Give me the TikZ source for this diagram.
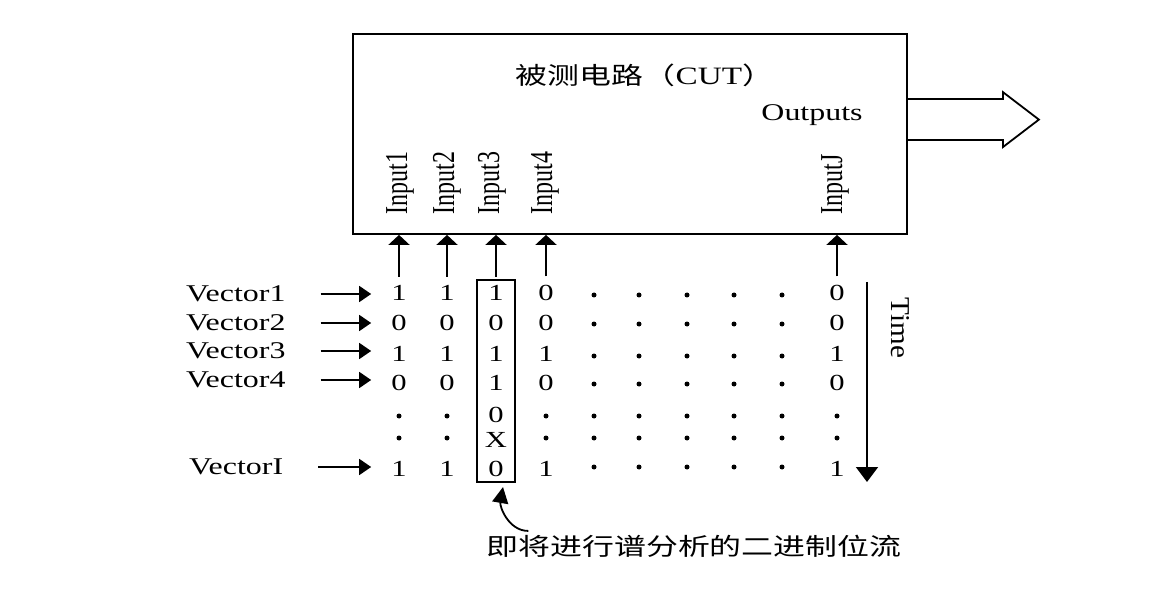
\documentclass[tikz,border=0pt]{standalone}
\usepackage{fontspec}
\setmainfont{Liberation Serif}
\newfontfamily\cjk{Noto Sans CJK SC}
\usepackage{tikz}
\usetikzlibrary{arrows.meta,fit}

\begin{document}
\begin{tikzpicture}[x=1pt, y=1pt, line width=1.8pt,
    txt/.style={inner sep=0pt, xscale=1.33, font=\fontsize{24}{28}\selectfont},
    bit/.style={inner sep=0pt, xscale=1.33, font=\fontsize{23}{27}\selectfont},
    dot/.style={shape=circle, inner sep=0pt, minimum size=5pt, fill},
    inp/.style={txt, rotate=90, anchor=west},
    lbl/.style={txt, anchor=west},
    vec/.style={-{Triangle[width=16pt,length=12pt]}, shorten <=34pt, shorten >=19pt},
    up/.style={-{Triangle[width=21pt,length=10pt]}}]
    \useasboundingbox (0,0) rectangle (1170,598);

    % circuit under test
    \node[draw, minimum width=554pt, minimum height=200pt, inner sep=0pt] (cut) at (630,464) {};
    \node[inner sep=0pt, xscale=1.33, font=\fontsize{25}{29}\selectfont] (title) at (645,523)
        {{\cjk\fontsize{24}{28}\selectfont 被测电路（}CUT{\cjk\fontsize{24}{28}\selectfont ）}};
    \node[txt] (outputs) at (812,483) {Outputs};
    \draw ([yshift=-66pt]cut.north east) -- ++(95,0) -- ++(0,7) -- ++(36,-27.5)
        -- ++(-36,-27.5) -- ++(0,7) -- ++(-95,0);

    \node[inp] (in1) at (400,383) {Input1};
    \node[inp] (in2) at (447,383) {Input2};
    \node[inp] (in3) at (492,383) {Input3};
    \node[inp] (in4) at (545,383) {Input4};
    \node[inp] (inJ) at (835,383) {InputJ};

    % test vectors
    \foreach \n/\x in {a/399,b/447} {
        \node[bit] (\n1) at (\x,305) {1};
        \node[bit] (\n2) at (\x,275) {0};
        \node[bit] (\n3) at (\x,244) {1};
        \node[bit] (\n4) at (\x,215) {0};
        \node[dot] (\n5) at (\x,182) {};
        \node[dot] (\n6) at (\x,160) {};
        \node[bit] (\n7) at (\x,129) {1};
    }
    \foreach \n/\x in {d/546,j/837} {
        \node[bit] (\n1) at (\x,305) {0};
        \node[bit] (\n2) at (\x,275) {0};
        \node[bit] (\n3) at (\x,244) {1};
        \node[bit] (\n4) at (\x,215) {0};
        \node[dot] (\n5) at (\x,182) {};
        \node[dot] (\n6) at (\x,160) {};
        \node[bit] (\n7) at (\x,129) {1};
    }
    \node[bit] (c1) at (496,305) {1};
    \node[bit] (c2) at (496,275) {0};
    \node[bit] (c3) at (496,244) {1};
    \node[bit] (c4) at (496,215) {1};
    \node[bit] (c5) at (496,183) {0};
    \node[bit] (c6) at (496,158) {X};
    \node[bit] (c7) at (496,129) {0};
    \foreach \x [count=\i] in {594,639,687,734,782}
        \foreach \y [count=\r] in {303,274,242,214,182,160,131}
            \node[dot] (e\i\r) at (\x,\y) {};

    \node[draw, fit=(c1)(c7), inner xsep=10pt, inner ysep=4.5pt] (stream) {};

    % inputs
    \foreach \n in {a,b,c,d,j}
        \draw[up] ([yshift=8pt]\n1.north) -- (\n1.north |- cut.south);

    \node[lbl] (v1) at (185,304) {Vector1};
    \node[lbl] (v2) at (185,275) {Vector2};
    \node[lbl] (v3) at (185,247) {Vector3};
    \node[lbl] (v4) at (185,218) {Vector4};
    \node[lbl] (vI) at (188,131) {VectorI};
    \draw[vec] (v1.east) -- (v1.east -| a1.west);
    \draw[vec] (v2.east) -- (v2.east -| a2.west);
    \draw[vec] (v3.east) -- (v3.east -| a3.west);
    \draw[vec] (v4.east) -- (v4.east -| a4.west);
    \draw[vec] (vI.east) -- (vI.east -| a7.west);

    % time axis
    \coordinate (tstart) at (867,316);
    \coordinate (tend) at (867,116);
    \draw[-{Triangle[width=22pt,length=15pt]}] (tstart) -- (tend);
    \node[inner sep=0pt, xscale=1.33, yscale=1.42, rotate=-90, font=\fontsize{20.5}{24}\selectfont] (time) at (900,270) {Time};

    \node[inner sep=0pt, xscale=1.33, font=\cjk\fontsize{24}{28}\selectfont] (note) at (694,52) {即将进行谱分析的二进制位流};
    \draw[-{Triangle[width=16pt,length=16pt]}] ([xshift=43pt,yshift=3pt]note.north west) to[out=180,in=-100] ([xshift=7pt,yshift=-4pt]stream.south);
\end{tikzpicture}
\end{document}
